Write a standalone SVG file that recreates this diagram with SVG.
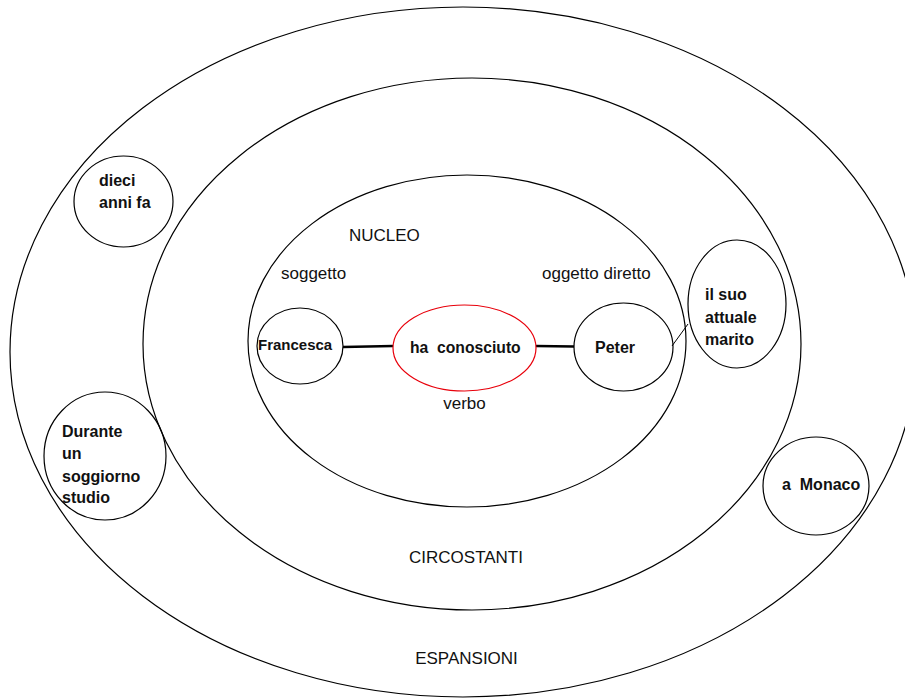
<svg xmlns="http://www.w3.org/2000/svg" width="905" height="698" viewBox="0 0 905 698">
<style>
.ring{fill:none;stroke:#000;stroke-width:1.2}
.node{fill:none;stroke:#000;stroke-width:1.2}
.verb{fill:none;stroke:#e8000b;stroke-width:1.2}
.lbl{font-family:"Liberation Sans",Arial,sans-serif;font-size:17px;fill:#111}
.b{font-family:"Liberation Sans",Arial,sans-serif;font-size:16px;font-weight:bold;fill:#111;white-space:pre}
.link{stroke:#000;stroke-width:2.6;fill:none}
.thin{stroke:#000;stroke-width:1;fill:none}
</style>
<rect width="905" height="698" fill="#fff"/>
<g id="espansioni">
<ellipse class="ring" cx="463" cy="352" rx="453" ry="345"/>
<text class="lbl" x="466.5" y="664" text-anchor="middle">ESPANSIONI</text>
</g>
<g id="circostanti">
<ellipse class="ring" cx="472" cy="344" rx="329" ry="266"/>
<text class="lbl" x="466" y="563" text-anchor="middle">CIRCOSTANTI</text>
</g>
<g id="nucleo">
<ellipse class="ring" cx="467" cy="341" rx="219" ry="166"/>
<text class="lbl" x="349" y="241">NUCLEO</text>
<text class="lbl" x="281" y="279">soggetto</text>
<text class="lbl" x="542" y="279">oggetto diretto</text>
<text class="lbl" x="464.5" y="409" text-anchor="middle">verbo</text>
</g>
<g id="connectors">
<line class="link" x1="343" y1="347" x2="393" y2="346"/>
<line class="link" x1="536" y1="346" x2="574" y2="346.5"/>
<line class="thin" x1="672" y1="346" x2="688" y2="324"/>
</g>
<g id="francesca">
<ellipse class="node" cx="300" cy="346" rx="43" ry="38"/>
<text class="b" x="258" y="350" style="font-size:15px">Francesca</text>
</g>
<g id="ha-conosciuto">
<ellipse class="verb" cx="464.5" cy="348" rx="71.5" ry="43"/>
<text class="b" x="410" y="353" style="font-size:15.7px">ha  conosciuto</text>
</g>
<g id="peter">
<ellipse class="node" cx="623.5" cy="347" rx="49.5" ry="44"/>
<text class="b" x="595" y="353">Peter</text>
</g>
<g id="il-suo-attuale-marito">
<ellipse class="node" cx="737" cy="304" rx="49" ry="64"/>
<text class="b" x="705" y="300">il suo</text>
<text class="b" x="705" y="323">attuale</text>
<text class="b" x="705" y="345">marito</text>
</g>
<g id="a-monaco">
<ellipse class="node" cx="816" cy="486" rx="53" ry="49"/>
<text class="b" x="782" y="490">a  Monaco</text>
</g>
<g id="dieci-anni-fa">
<ellipse class="node" cx="123.5" cy="201.5" rx="49.5" ry="45.5"/>
<text class="b" x="99" y="186">dieci</text>
<text class="b" x="99" y="208">anni fa</text>
</g>
<g id="durante">
<ellipse class="node" cx="105" cy="456" rx="61" ry="64"/>
<text class="b" x="62" y="437">Durante</text>
<text class="b" x="62" y="459">un</text>
<text class="b" x="62" y="482">soggiorno</text>
<text class="b" x="62" y="503">studio</text>
</g>
</svg>
